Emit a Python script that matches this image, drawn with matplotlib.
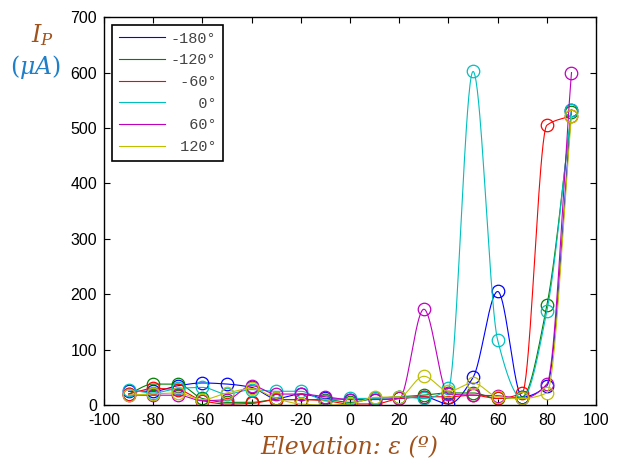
import numpy as np
import matplotlib
matplotlib.use('Agg')
import matplotlib.pyplot as plt

# elevation angles (deg)
elev = [-90, -80, -70, -60, -50, -40, -30, -20, -10, 0, 10, 20, 30, 40, 50, 60, 70, 80, 90]

# peak current (uA) for each azimuth
ip_m180 = [25, 25, 35, 40, 38, 32, 12, 20, 12, 10, 10, 12, 15, 2, 50, 205, 15, 35, 533]
ip_m120 = [20, 38, 38, 12, 5, 5, 10, 10, 10, 5, 12, 15, 18, 22, 22, 12, 15, 180, 528]
ip_m60 = [20, 30, 28, 8, 2, 3, 10, 10, 8, 2, 2, 12, 15, 15, 18, 12, 22, 505, 522]
ip_0 = [28, 22, 30, 32, 20, 28, 25, 25, 8, 12, 12, 15, 12, 30, 602, 117, 12, 170, 533]
ip_60 = [18, 18, 18, 8, 10, 35, 20, 20, 15, 10, 10, 12, 173, 20, 18, 17, 12, 38, 600]
ip_120 = [18, 20, 22, 10, 22, 30, 12, 2, 0, 2, 14, 15, 52, 25, 40, 15, 12, 22, 522]

labels = ['-180°', '-120°', ' -60°', '   0°', '  60°', ' 120°']
colors = ['#0000ff', '#008000', '#ff0000', '#00bfbf', '#bf00bf', '#bfbf00']
series = [ip_m180, ip_m120, ip_m60, ip_0, ip_60, ip_120]


def pchip(x, y, xs):
    # shape-preserving cubic, only used to draw the smooth line
    x = np.asarray(x, float)
    y = np.asarray(y, float)
    h = np.diff(x)
    delta = np.diff(y) / h
    n = len(x)
    d = np.zeros(n)
    for i in range(1, n - 1):
        if delta[i - 1] * delta[i] > 0:
            w1 = 2 * h[i] + h[i - 1]
            w2 = h[i] + 2 * h[i - 1]
            d[i] = (w1 + w2) / (w1 / delta[i - 1] + w2 / delta[i])
    d[0] = delta[0]
    d[-1] = delta[-1]
    k = np.clip(np.searchsorted(x, xs) - 1, 0, n - 2)
    t = (xs - x[k]) / h[k]
    h00 = 2 * t ** 3 - 3 * t ** 2 + 1
    h10 = t ** 3 - 2 * t ** 2 + t
    h01 = -2 * t ** 3 + 3 * t ** 2
    h11 = t ** 3 - t ** 2
    return h00 * y[k] + h10 * h[k] * d[k] + h01 * y[k + 1] + h11 * h[k] * d[k + 1]


plt.rcParams['font.family'] = ['Liberation Sans', 'DejaVu Sans']
plt.rcParams['axes.unicode_minus'] = False
plt.rcParams['mathtext.fontset'] = 'dejavuserif'

fig = plt.figure(figsize=(6.19, 4.63), dpi=100)
ax = fig.add_axes([0.168, 0.125, 0.795, 0.838])

xs = np.linspace(-90, 90, 721)
for vals, lab, col in zip(series, labels, colors):
    ax.plot(xs, pchip(elev, vals, xs), color=col, lw=0.8, label=lab)
    ax.plot(elev, vals, 'o', mfc='none', mec=col, ms=9, mew=0.9)

ax.set_xlim(-100, 100)
ax.set_ylim(0, 700)
ax.set_xticks(range(-100, 101, 20))
ax.set_yticks(range(0, 701, 100))
ax.tick_params(direction='in', top=True, right=True, labelsize=11.5, length=4)
ax.tick_params(axis='x', pad=6)
ax.tick_params(axis='y', pad=5)
for s in ax.spines.values():
    s.set_linewidth(1.0)

leg = ax.legend(loc='upper left', prop={'family': 'Liberation Mono', 'size': 11},
                fancybox=False, edgecolor='black', framealpha=1, handlelength=3.0,
                handletextpad=0.4, borderpad=0.45, labelspacing=0.5,
                borderaxespad=0, bbox_to_anchor=(0.016, 0.98))
leg.get_frame().set_linewidth(1.2)
for t in leg.get_texts():
    t.set_color('#444444')

brown = '#a0521c'
fig.text(0.565, 0.008, 'Elevation: ε (º)', ha='center', va='bottom',
         family='DejaVu Serif', style='italic', fontsize=17, color=brown)
fig.text(0.068, 0.925, r'$I_P$', ha='center', va='center', fontsize=17, color=brown)
fig.text(0.058, 0.855, r'$(\mu A)$', ha='center', va='center', fontsize=17, color='#1f7fc8')

fig.savefig('out.png', dpi=100)
